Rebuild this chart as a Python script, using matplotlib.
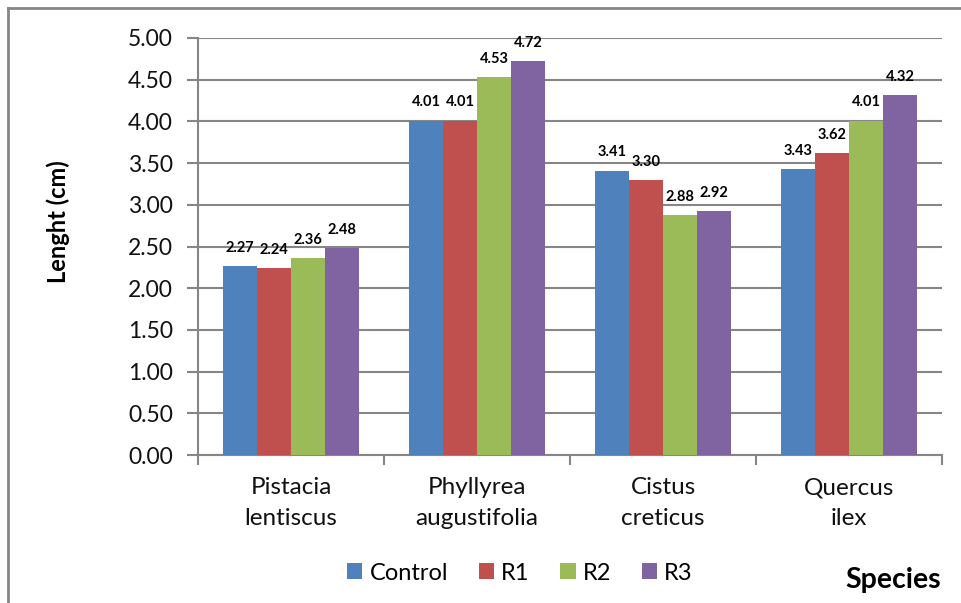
import matplotlib.pyplot as plt
import numpy as np

# Lengths (cm) per species and treatment
species = ['Pistacia\nlentiscus', 'Phyllyrea\naugustifolia', 'Cistus\ncreticus', 'Quercus\nilex']
series_names = ['Control', 'R1', 'R2', 'R3']
control = [2.27, 4.01, 3.41, 3.43]
r1 = [2.24, 4.01, 3.30, 3.62]
r2 = [2.36, 4.53, 2.88, 4.01]
r3 = [2.48, 4.72, 2.92, 4.32]
colors = ['#4F81BD', '#C0504D', '#9BBB59', '#8064A2']

plt.rcParams['font.family'] = ['Lato', 'DejaVu Sans']
grey = '#868686'

fig = plt.figure(figsize=(9.62, 6.03), dpi=100)

# outer chart border (top and left edges visible)
fig.add_artist(plt.Line2D([8 / 962, 8 / 962], [0, 1 - 8 / 603], transform=fig.transFigure,
                          color=grey, lw=2))
fig.add_artist(plt.Line2D([8 / 962, 1], [1 - 8 / 603, 1 - 8 / 603], transform=fig.transFigure,
                          color=grey, lw=2))

ax = fig.add_axes([198 / 962, 1 - 455 / 603, 744 / 962, 417 / 603])

x = np.arange(len(species))
bw = 0.183
for i, (vals, name, c) in enumerate(zip([control, r1, r2, r3], series_names, colors)):
    pos = x + (i - 1.5) * bw
    ax.bar(pos, vals, bw, color=c, label=name, zorder=3)
    for px, v in zip(pos, vals):
        ax.annotate(f'{v:.2f}', (px, v), xytext=(0, 8), textcoords='offset points',
                    ha='center', va='bottom', fontsize=10.5, fontweight='bold', zorder=4)

ax.set_xlim(-0.5, 3.5)
ax.set_ylim(0, 5)
ax.set_yticks(np.arange(0, 5.01, 0.5))
ax.set_yticklabels([f'{t:.2f}' for t in np.arange(0, 5.01, 0.5)], fontsize=16.5, color='#111111')
ax.yaxis.grid(True, color=grey, lw=1.5, zorder=0)

ax.set_xticks(x)
ax.set_xticklabels(species, fontsize=17.5, linespacing=1.6, color='#111111')
ax.tick_params(axis='x', length=0, pad=16)
ax.set_xticks(np.arange(-0.5, 4, 1), minor=True)
ax.tick_params(axis='x', which='minor', length=7, width=1.5, color=grey)
ax.tick_params(axis='y', length=8, width=1.5, color=grey, pad=10)

for s in ['top', 'right']:
    ax.spines[s].set_visible(False)
for s in ['left', 'bottom']:
    ax.spines[s].set_color(grey)
    ax.spines[s].set_linewidth(1.5)

ax.set_ylabel('Lenght (cm)', fontsize=17, fontweight='bold')
ax.yaxis.set_label_coords(-0.172, 0.56)

fig.text(941 / 962, 1 - 580 / 603, 'Species', fontsize=20.5, fontweight='bold',
         ha='right', va='center')

leg = ax.legend(loc='center', bbox_to_anchor=(520 / 962, 1 - 573 / 603),
                bbox_transform=fig.transFigure, ncol=4, frameon=False, fontsize=17,
                handlelength=0.65, handleheight=0.65, handletextpad=0.3, columnspacing=1.3)

fig.savefig('out.png', dpi=100)
